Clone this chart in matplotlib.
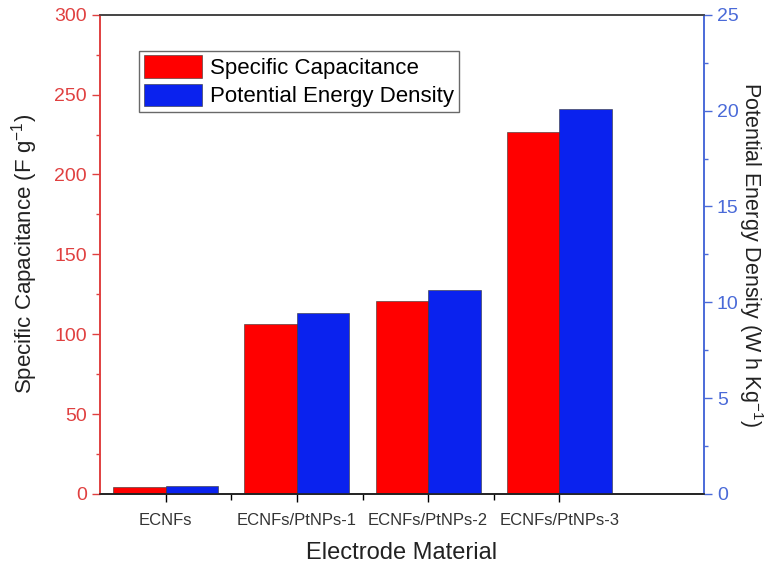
import numpy as np
import matplotlib.pyplot as plt

plt.rcParams['font.family'] = ['Liberation Sans', 'DejaVu Sans']
plt.rcParams['mathtext.fontset'] = 'custom'
plt.rcParams['mathtext.rm'] = 'Liberation Sans'

categories = ['ECNFs', 'ECNFs/PtNPs-1', 'ECNFs/PtNPs-2', 'ECNFs/PtNPs-3']
capacitance = [4.5, 106.5, 121, 226.5]      # F g^-1
energy = [0.42, 9.45, 10.65, 20.1]          # W h Kg^-1

red = '#ff0000'
blue = '#0a22ee'
red_axis = '#e04040'
blue_axis = '#4a6ad8'

fig = plt.figure(figsize=(7.7, 5.69), dpi=100)
ax = fig.add_axes([0.13, 0.132, 0.784, 0.842])
ax2 = ax.twinx()

x = np.arange(len(categories))
w = 0.4
ax.bar(x - w / 2, capacitance, w, color=red, edgecolor='#333333', linewidth=0.4,
       label='Specific Capacitance')
ax2.bar(x + w / 2, energy, w, color=blue, edgecolor='#333333', linewidth=0.4,
        label='Potential Energy Density')

ax.set_xlim(-0.5, 4.1)
ax.set_ylim(0, 300)
ax2.set_ylim(0, 25)

ax.set_xticks(x)
ax.set_xticklabels(categories, fontsize=12, color='#333333')
ax.set_xticks(x[:-1] + 0.5, minor=True)
ax.tick_params(axis='x', which='major', length=6, width=1, direction='out', pad=8)
ax.tick_params(axis='x', which='minor', length=4, width=1, direction='out')

ax.set_yticks(np.arange(0, 301, 50))
ax.set_yticks(np.arange(0, 301, 25), minor=True)
ax.tick_params(axis='y', which='major', colors=red_axis, labelsize=14, length=6, width=1)
ax.tick_params(axis='y', which='minor', colors=red_axis, length=3, width=1)

ax2.set_yticks(np.arange(0, 26, 5))
ax2.set_yticks(np.arange(0, 26, 2.5), minor=True)
ax2.tick_params(axis='y', which='major', colors=blue_axis, labelsize=14, length=6, width=1)
ax2.tick_params(axis='y', which='minor', colors=blue_axis, length=3, width=1)

for a in (ax, ax2):
    a.spines['left'].set_color(red_axis)
    a.spines['right'].set_color(blue_axis)
    a.spines['top'].set_color('#444444')
    a.spines['bottom'].set_color('#222222')
    for s in a.spines.values():
        s.set_linewidth(1.2)

ax.set_xlabel('Electrode Material', fontsize=17, color='#222222', labelpad=10)
ax.set_ylabel('Specific Capacitance (F g$^{-1}$)', fontsize=16, color='#222222', labelpad=10)
ax2.set_ylabel('Potential Energy Density (W h Kg$^{-1}$)', fontsize=15.5, color='#222222',
               rotation=270, ha='center', va='center')
ax2.yaxis.set_label_coords(1.078, 0.5)

h1, l1 = ax.get_legend_handles_labels()
h2, l2 = ax2.get_legend_handles_labels()
leg = ax2.legend(h1 + h2, l1 + l2, loc='upper left', bbox_to_anchor=(0.065, 0.925),
                 fontsize=16, frameon=True, fancybox=False, edgecolor='#444444',
                 handlelength=2.6, handleheight=1.2, borderpad=0.2, labelspacing=0.2,
                 handletextpad=0.4, borderaxespad=0)
leg.get_frame().set_linewidth(1.0)

fig.savefig('out.png', dpi=100)
